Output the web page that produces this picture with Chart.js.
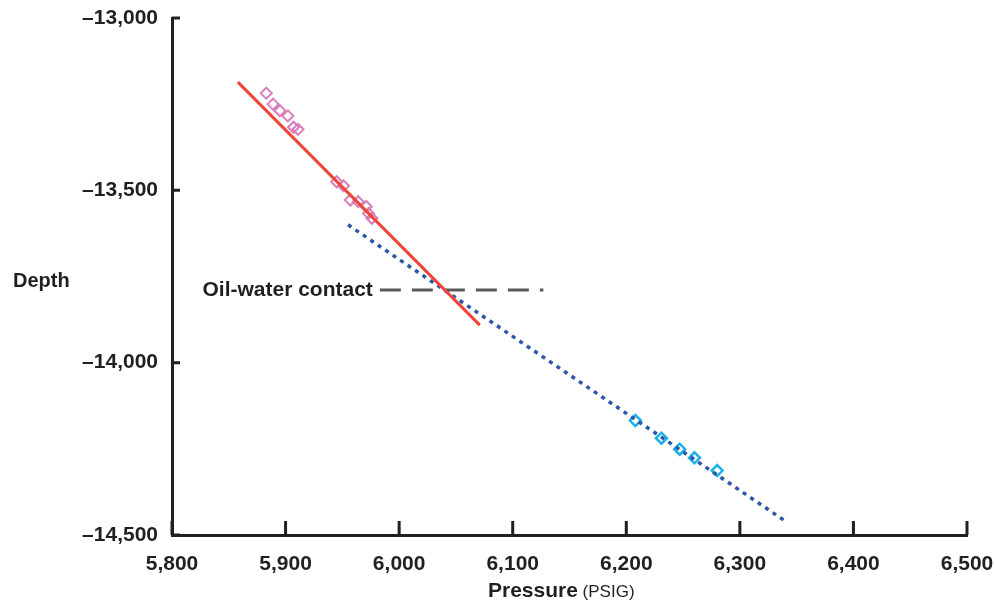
<!DOCTYPE html>
<html>
<head>
<meta charset="utf-8">
<script src="https://cdn.jsdelivr.net/npm/chart.js@4.4.0/dist/chart.umd.min.js"></script>
<style>
  html, body { margin: 0; padding: 0; background: #fff; }
  canvas { display: block; }
</style>
</head>
<body>
<canvas id="chart" width="995" height="607"></canvas>
<script>
// pressure / depth readings
const oilPressure = [5883, 5889, 5895, 5902, 5907, 5911, 5945, 5951, 5957, 5964, 5971, 5973, 5976];
const oilDepth = [-13218, -13250, -13269, -13284, -13317, -13323, -13475, -13487, -13528, -13533, -13547, -13567, -13581];
const waterPressure = [6208, 6231, 6247, 6260, 6280];
const waterDepth = [-14168, -14219, -14251, -14276, -14313];

// gradient lines
const oilTrendPressure = [5858, 6071];
const oilTrendDepth = [-13186, -13891];
const waterTrendPressure = [5955, 6341];
const waterTrendDepth = [-13600, -14462];
const contactPressure = [5983, 6127];
const contactDepth = [-13789, -13789];

// axes
const xMin = 5800, xMax = 6500, xStep = 100;
const yMin = -14500, yMax = -13000, yStep = 500;

const textColor = '#231f20';
const fontFamily = '"Liberation Sans", Arial, Helvetica, sans-serif';

function pts(xs, ys) {
  return xs.map((x, i) => ({ x: x, y: ys[i] }));
}

// ticks pointing into the plot, axis titles and the contact label
const extras = {
  id: 'extras',
  afterDraw(chart) {
    const ctx = chart.ctx;
    const xs = chart.scales.x, ys = chart.scales.y;
    const area = chart.chartArea;
    ctx.save();
    ctx.strokeStyle = textColor;
    ctx.lineWidth = 3;
    ctx.beginPath();
    for (let v = xMin; v <= xMax; v += xStep) {
      const px = xs.getPixelForValue(v);
      ctx.moveTo(px, area.bottom);
      ctx.lineTo(px, area.bottom - 14);
    }
    for (let v = yMin; v <= yMax; v += yStep) {
      const py = ys.getPixelForValue(v);
      ctx.moveTo(area.left, py);
      ctx.lineTo(area.left + 8, py);
    }
    ctx.stroke();

    ctx.fillStyle = textColor;
    ctx.textBaseline = 'middle';

    // Depth
    ctx.font = 'bold 20px ' + fontFamily;
    ctx.textAlign = 'left';
    ctx.fillText('Depth', 13, (area.top + area.bottom) / 2 + 5);

    // Pressure (PSIG)
    const boldPart = 'Pressure';
    const normPart = ' (PSIG)';
    ctx.font = 'bold 21px ' + fontFamily;
    const w1 = ctx.measureText(boldPart).width;
    const startX = 488;
    const ty = area.bottom + 56;
    ctx.fillText(boldPart, startX, ty);
    ctx.font = '17px ' + fontFamily;
    ctx.fillText(normPart, startX + w1, ty + 1);

    // contact label
    ctx.font = 'bold 21px ' + fontFamily;
    ctx.textAlign = 'right';
    ctx.fillText('Oil-water contact',
      xs.getPixelForValue(contactPressure[0]) - 7,
      ys.getPixelForValue(contactDepth[0]));
    ctx.restore();
  }
};

new Chart(document.getElementById('chart'), {
  type: 'scatter',
  data: {
    datasets: [
      {
        data: pts(oilTrendPressure, oilTrendDepth),
        showLine: true,
        borderColor: '#ee4636',
        borderWidth: 3,
        pointRadius: 0
      },
      {
        data: pts(waterTrendPressure, waterTrendDepth),
        showLine: true,
        borderColor: '#2b58a8',
        borderWidth: 3.5,
        borderDash: [4, 5],
        pointRadius: 0
      },
      {
        data: pts(contactPressure, contactDepth),
        showLine: true,
        borderColor: '#5a5a5a',
        borderWidth: 3,
        borderDash: [21, 11],
        pointRadius: 0
      },
      {
        data: pts(oilPressure, oilDepth),
        pointStyle: 'rectRot',
        pointRadius: 5.5,
        pointBorderWidth: 2,
        borderColor: '#d97dbd',
        backgroundColor: 'rgba(255,255,255,0)'
      },
      {
        data: pts(waterPressure, waterDepth),
        pointStyle: 'rectRot',
        pointRadius: 5.5,
        pointBorderWidth: 2.5,
        borderColor: '#1cb0e8',
        backgroundColor: 'rgba(255,255,255,0)'
      }
    ]
  },
  options: {
    responsive: false,
    animation: false,
    layout: { padding: { top: 18, right: 28, left: 0, bottom: 0 } },
    plugins: {
      legend: { display: false },
      tooltip: { enabled: false }
    },
    scales: {
      x: {
        type: 'linear',
        min: xMin,
        max: xMax,
        grid: { display: false },
        border: { display: true, color: textColor, width: 3 },
        ticks: {
          stepSize: xStep,
          padding: 9,
          color: textColor,
          font: { family: fontFamily, size: 21, weight: 'bold' },
          callback: v => v.toLocaleString('en-US')
        },
        afterFit: s => {
          s.height = 72;
          s.paddingLeft = 0;
          s.paddingRight = 0;
        }
      },
      y: {
        type: 'linear',
        min: yMin,
        max: yMax,
        grid: { display: false },
        border: { display: true, color: textColor, width: 3 },
        ticks: {
          stepSize: yStep,
          padding: 6,
          color: textColor,
          font: { family: fontFamily, size: 21, weight: 'bold' },
          callback: v => '\u2013' + Math.abs(v).toLocaleString('en-US')
        },
        afterFit: s => {
          s.width = 172;
          s.paddingTop = 0;
          s.paddingBottom = 0;
        }
      }
    }
  },
  plugins: [extras]
});
</script>
</body>
</html>
